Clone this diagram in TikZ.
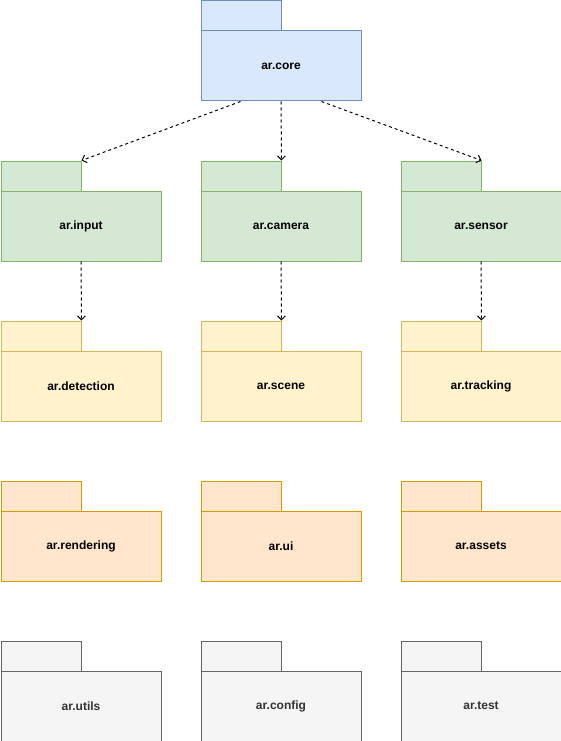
\documentclass[tikz,border=0pt]{standalone}
\usepackage{fontspec}
\setmainfont{Liberation Sans}
\usepackage{tikz}
\usetikzlibrary{arrows.meta}
\definecolor{blueFill}{HTML}{DAE8FC}\definecolor{blueLine}{HTML}{6C8EBF}
\definecolor{greenFill}{HTML}{D5E8D4}\definecolor{greenLine}{HTML}{82B366}
\definecolor{yellowFill}{HTML}{FFF2CC}\definecolor{yellowLine}{HTML}{D6B656}
\definecolor{orangeFill}{HTML}{FFE6CC}\definecolor{orangeLine}{HTML}{D79B00}
\definecolor{grayFill}{HTML}{F5F5F5}\definecolor{grayLine}{HTML}{666666}
\definecolor{grayText}{HTML}{333333}
\tikzset{
	tab/.style 2 args={draw=#1,fill=#2,line width=1pt,minimum width=80pt,minimum height=30pt,inner sep=0pt,anchor=north west},
	body/.style 2 args={draw=#1,fill=#2,line width=1pt,minimum width=160pt,minimum height=70pt,inner sep=0pt,anchor=north west,font=\fontsize{12}{14}\selectfont\bfseries},
	dep/.style={dashed,dash pattern=on 3pt off 3pt,line width=1pt,-{Straight Barb[length=4pt,width=8pt]}}
}
\begin{document}
\begin{tikzpicture}[x=1pt,y=-1pt]
	\useasboundingbox (0,0) rectangle (561,741);

	\node [tab={blueLine}{blueFill}] (core-tab) at (200.5,0.5) {};
	\node [body={blueLine}{blueFill}] (core) at (200.5,30.5) {ar.core};

	\node [tab={greenLine}{greenFill}] (input-tab) at (0.5,160.5) {};
	\node [body={greenLine}{greenFill}] (input) at (0.5,190.5) {ar.input};
	\node [tab={greenLine}{greenFill}] (camera-tab) at (200.5,160.5) {};
	\node [body={greenLine}{greenFill}] (camera) at (200.5,190.5) {ar.camera};
	\node [tab={greenLine}{greenFill}] (sensor-tab) at (400.5,160.5) {};
	\node [body={greenLine}{greenFill}] (sensor) at (400.5,190.5) {ar.sensor};

	\node [tab={yellowLine}{yellowFill}] (detection-tab) at (0.5,320.5) {};
	\node [body={yellowLine}{yellowFill}] (detection) at (0.5,350.5) {ar.detection};
	\node [tab={yellowLine}{yellowFill}] (scene-tab) at (200.5,320.5) {};
	\node [body={yellowLine}{yellowFill}] (scene) at (200.5,350.5) {ar.scene};
	\node [tab={yellowLine}{yellowFill}] (tracking-tab) at (400.5,320.5) {};
	\node [body={yellowLine}{yellowFill}] (tracking) at (400.5,350.5) {ar.tracking};

	\node [tab={orangeLine}{orangeFill}] (rendering-tab) at (0.5,480.5) {};
	\node [body={orangeLine}{orangeFill}] (rendering) at (0.5,510.5) {ar.rendering};
	\node [tab={orangeLine}{orangeFill}] (ui-tab) at (200.5,480.5) {};
	\node [body={orangeLine}{orangeFill}] (ui) at (200.5,510.5) {ar.ui};
	\node [tab={orangeLine}{orangeFill}] (assets-tab) at (400.5,480.5) {};
	\node [body={orangeLine}{orangeFill}] (assets) at (400.5,510.5) {ar.assets};

	\node [tab={grayLine}{grayFill}] (utils-tab) at (0.5,640.5) {};
	\node [body={grayLine}{grayFill},text=grayText] (utils) at (0.5,670.5) {ar.utils};
	\node [tab={grayLine}{grayFill}] (config-tab) at (200.5,640.5) {};
	\node [body={grayLine}{grayFill},text=grayText] (config) at (200.5,670.5) {ar.config};
	\node [tab={grayLine}{grayFill}] (test-tab) at (400.5,640.5) {};
	\node [body={grayLine}{grayFill},text=grayText] (test) at (400.5,670.5) {ar.test};

	% dependencies
	\draw [dep] ([xshift=40pt]core.south west) -- (input-tab.north east);
	\draw [dep] (core.south) -- (camera-tab.north east);
	\draw [dep] ([xshift=-40pt]core.south east) -- (sensor-tab.north east);
	\draw [dep] (input.south) -- (detection-tab.north east);
	\draw [dep] (camera.south) -- (scene-tab.north east);
	\draw [dep] (sensor.south) -- (tracking-tab.north east);
\end{tikzpicture}
\end{document}
